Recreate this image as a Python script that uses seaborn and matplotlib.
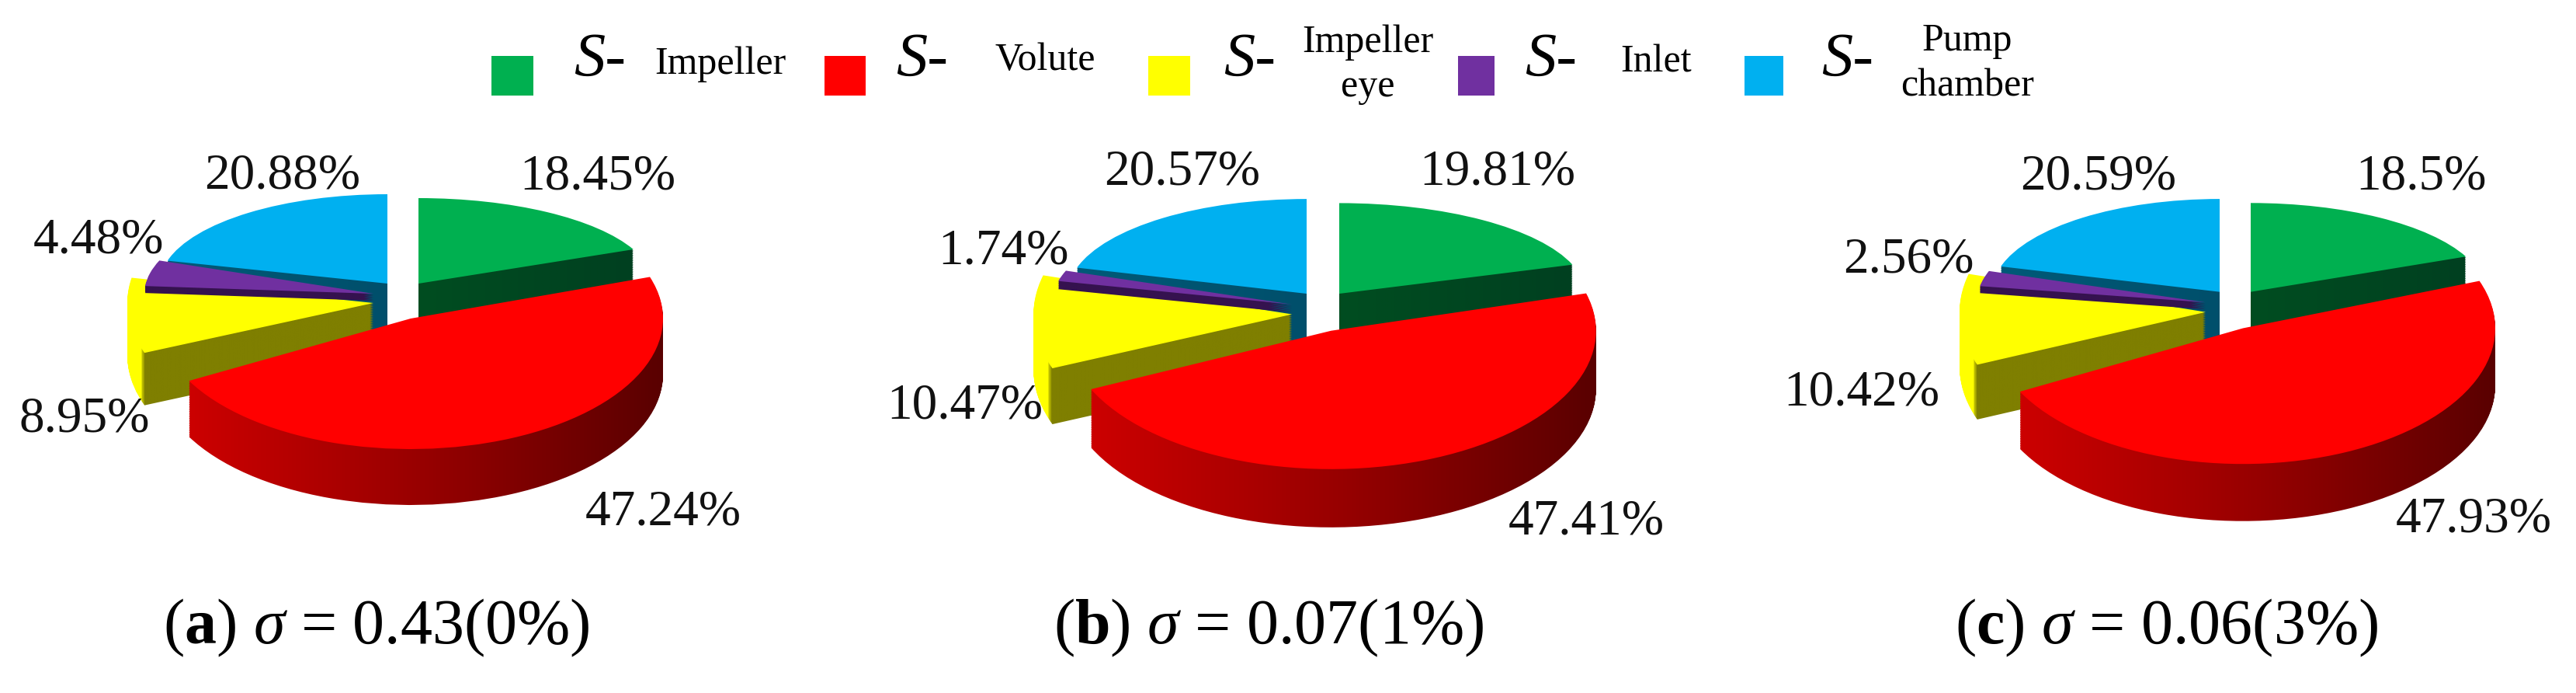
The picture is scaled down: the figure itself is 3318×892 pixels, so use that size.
import numpy as np
import matplotlib
matplotlib.use("Agg")
import matplotlib.pyplot as plt
from matplotlib.colors import LinearSegmentedColormap
from matplotlib.patches import Rectangle
from matplotlib.path import Path
import seaborn as sns

# ---------- data ----------
parts = ["Impeller", "Volute", "Impeller eye", "Inlet", "Pump chamber"]
panel_a = [18.45, 47.24, 8.95, 4.48, 20.88]
panel_b = [19.81, 47.41, 10.47, 1.74, 20.57]
panel_c = [18.5, 47.93, 10.42, 2.56, 20.59]
captions = ["a", "b", "c"]
sigmas = ["0.43", "0.07", "0.06"]
roughness = ["0%", "1%", "3%"]
top_colors = ["#00b050", "#ff0000", "#ffff00", "#7030a0", "#00b0f0"]

# ---------- layout (pixels) ----------
W, H = 3318, 892
sns.set_theme(style="white")
plt.rcParams["font.family"] = ["Liberation Serif", "DejaVu Serif"]
plt.rcParams["mathtext.fontset"] = "custom"
plt.rcParams["mathtext.rm"] = "Liberation Serif"
plt.rcParams["mathtext.it"] = "Liberation Serif:italic"
plt.rcParams["mathtext.bf"] = "Liberation Serif:bold"
palette = sns.color_palette(top_colors)

# side-wall gradients, left to right across each slice
side_stops = [
    [(0, "#004d20"), (1, "#004020")],
    [(0, "#cc0000"), (0.5, "#960000"), (1, "#580000")],
    [(0, "#ffff00"), (0.055, "#ffff00"), (0.07, "#7f7f00"), (1, "#7f7f00")],
    [(0, "#35124f"), (1, "#35124f")],
    [(0, "#005a78"), (1, "#004f6b")],
]
# slice centre x, y, radius x, radius y, depth, layer, in panel (a) pixels
slice_geom = [
    (539, 365, 302, 110, 68, 1),
    (529, 410, 325, 168, 72, 6),
    (481, 390, 317, 175, 68, 4),
    (481, 378, 295, 120, 10, 5),
    (499, 365, 293, 115, 68, 2),
]
# perspective turn of each slice in each panel, degrees
slice_turn = [
    [0, 5, 12, 6, 0],
    [0, 3, 6, 4, 0],
    [0, 3, 9, 3, 0],
]
# anchor x, anchor y, scale x, scale y for each panel
panel_tf = [(539, 248, 1.0, 1.0), (1725, 254, 1.05, 1.06), (2899, 254, 1.0, 1.04)]

label_pos = [
    [(770, 228), (854, 660), (109, 540), (127, 310), (364, 227)],
    [(1929, 222), (2043, 672), (1243, 523), (1293, 324), (1523, 222)],
    [(3119, 228), (3186, 669), (2398, 506), (2458, 335), (2703, 228)],
]
caption_x = [210, 1357, 2518]

fig = plt.figure(figsize=(W / 100, H / 100), dpi=100, facecolor="white")


def draw_slice(values, idx, geom, turn, tf):
    cx, cy, rx, ry, depth, layer = geom
    ax0, ay0, sx, sy = tf
    cx, cy = ax0 + sx * (cx - 539), ay0 + sy * (cy - 248)
    rx, ry, depth = rx * sx, ry * sy, depth * sy
    ax = fig.add_axes([0, 0, 1, 1], zorder=layer)
    wedges, _ = ax.pie(values, colors=palette, startangle=90 - turn, counterclock=False,
                       radius=1, wedgeprops=dict(linewidth=0))
    for i, w in enumerate(wedges):
        if i != idx:
            w.remove()
    top = wedges[idx]
    top.set_zorder(5)
    base = top.get_path()
    step = 1.5 / ry
    n = int(depth / 1.5)
    side = Path.make_compound_path(*[
        Path(base.vertices - [0, k * step], base.codes) for k in range(1, n + 1)
    ])
    x0, x1 = base.vertices[:, 0].min(), base.vertices[:, 0].max()
    y0, y1 = base.vertices[:, 1].min() - (n + 1) * step, base.vertices[:, 1].max()
    cmap = LinearSegmentedColormap.from_list("side", side_stops[idx])
    im = ax.imshow(np.linspace(0, 1, 400)[None, :], cmap=cmap, vmin=0, vmax=1,
                   extent=(x0, x1, y0, y1), aspect="auto", zorder=1, origin="lower")
    im.set_clip_path(side, transform=ax.transData)
    ax.set_aspect("auto")
    ax.set_xlim((0 - cx) / rx, (W - cx) / rx)
    ax.set_ylim((cy - H) / ry, cy / ry)
    ax.axis("off")
    ax.patch.set_alpha(0)


panels = [panel_a, panel_b, panel_c]
for p, values in enumerate(panels):
    for idx, geom in enumerate(slice_geom):
        draw_slice(values, idx, geom, slice_turn[p][idx], panel_tf[p])

# overlay in pixel coordinates for text and the legend
ov = fig.add_axes([0, 0, 1, 1], zorder=20)
ov.set_xlim(0, W)
ov.set_ylim(H, 0)
ov.axis("off")
ov.patch.set_alpha(0)

for p, values in enumerate(panels):
    for v, (x, y) in zip(values, label_pos[p]):
        ov.text(x, y, f"{v:g}%", ha="center", va="center", fontsize=47, color="#111111")
    ov.text(caption_x[p], 808,
            rf"($\mathbf{{{captions[p]}}}$) $\mathit{{\sigma}}$ = {sigmas[p]}({roughness[p]})",
            ha="left", va="center", fontsize=59, color="black")

# legend
swatches = [(633, 54), (1062, 53), (1479, 54), (1878, 47), (2247, 50)]
s_x = [773, 1188, 1610, 1998, 2380]
legend_lines = [
    [("Impeller", 928, 83)],
    [("Volute", 1346, 78)],
    [("Impeller", 1762, 55), ("eye", 1762, 112)],
    [("Inlet", 2133, 80)],
    [("Pump", 2534, 53), ("chamber", 2534, 111)],
]
for i, (x, w) in enumerate(swatches):
    ov.add_patch(Rectangle((x, 72), w, 51, facecolor=palette[i], edgecolor="none"))
    ov.text(s_x[i], 78, "S-", style="italic", ha="center", va="center", fontsize=58, color="black")
    for txt, tx, ty in legend_lines[i]:
        ov.text(tx, ty, txt, ha="center", va="center", fontsize=36, color="black")

fig.savefig("out.png", dpi=100)
